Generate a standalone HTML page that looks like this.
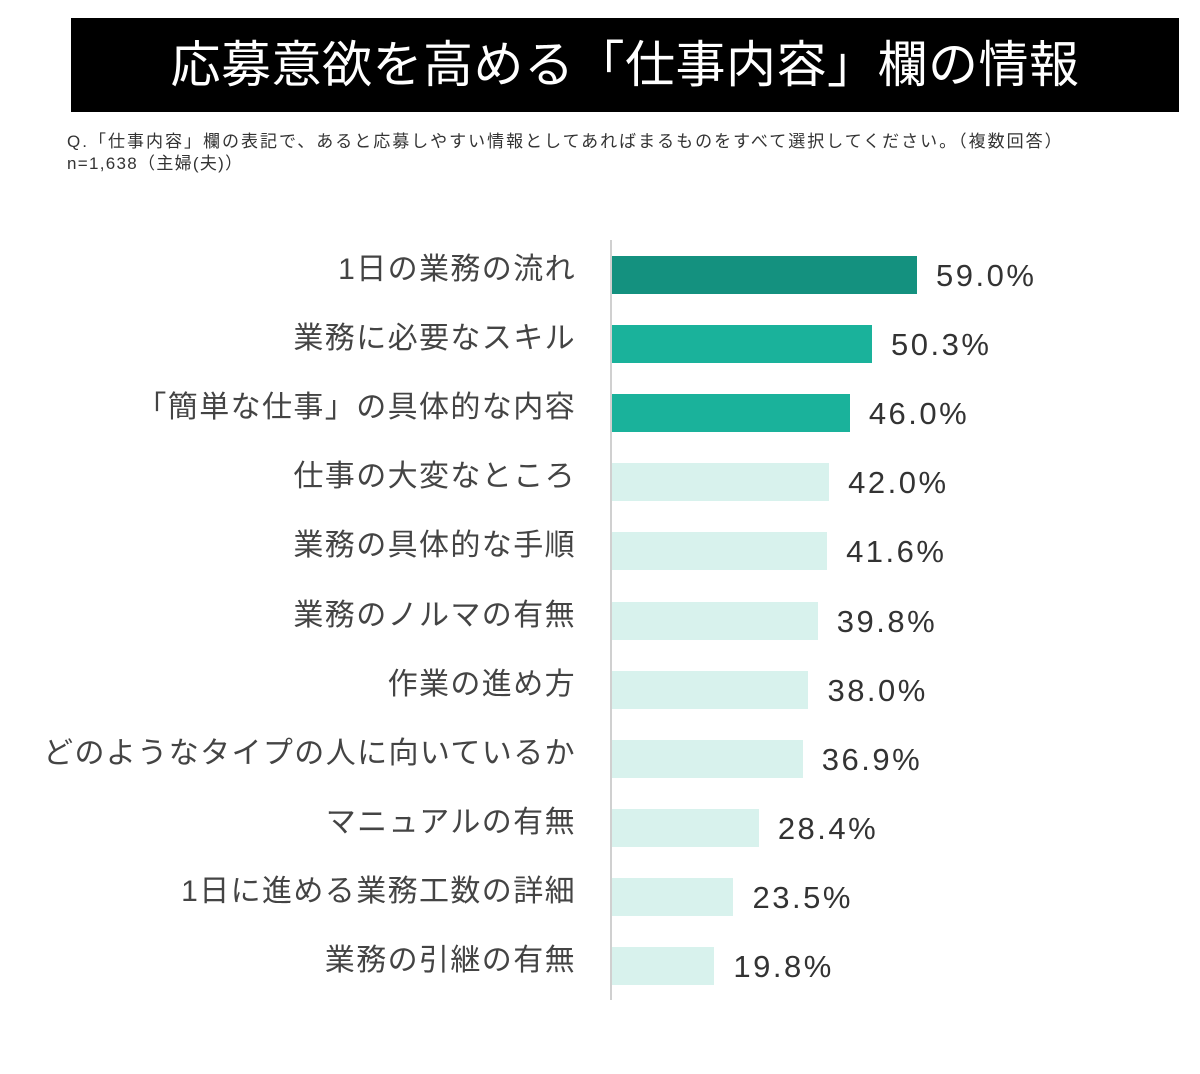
<!DOCTYPE html>
<html><head><meta charset="utf-8"><style>
body{margin:0;width:1200px;height:1074px;background:#fff;position:relative;overflow:hidden;font-family:"Liberation Sans","Noto Sans CJK JP",sans-serif;}
.t{position:absolute;left:71px;top:18px;width:1108px;height:94px;background:#000;color:#fff;font-size:50px;line-height:94px;text-align:center;letter-spacing:0.5px}
.q{position:absolute;left:67px;font-size:17px;letter-spacing:2px;color:#333;white-space:nowrap}
.ax{position:absolute;left:610px;top:240px;width:2px;height:760px;background:#d0d0d0}
.b{position:absolute;left:612px;height:38px}
.l{position:absolute;right:624px;font-size:30px;letter-spacing:1.4px;color:#444;white-space:nowrap;line-height:38px}
.v{position:absolute;font-size:31px;letter-spacing:2.5px;color:#333;line-height:38px;white-space:nowrap}
</style></head><body>
<div class="t">応募意欲を高める「仕事内容」欄の情報</div>
<div class="q" style="top:127px">Q.「仕事内容」欄の表記で、あると応募しやすい情報としてあればまるものをすべて選択してください。（複数回答）</div>
<div class="q" style="top:149px;letter-spacing:1.3px">n=1,638（主婦(夫)）</div>
<div class="ax"></div>
<div id="c"></div>
<script>
var d=[["1日の業務の流れ",59.0,"#14917f"],["業務に必要なスキル",50.3,"#1ab29b"],["「簡単な仕事」の具体的な内容",46.0,"#1ab29b"],["仕事の大変なところ",42.0],["業務の具体的な手順",41.6],["業務のノルマの有無",39.8],["作業の進め方",38.0],["どのようなタイプの人に向いているか",36.9],["マニュアルの有無",28.4],["1日に進める業務工数の詳細",23.5],["業務の引継の有無",19.8]];
var h="";
d.forEach(function(r,i){var y=256+i*69.1,w=r[1]*5.17;
h+='<div class="b" style="top:'+y+'px;width:'+w+'px;background:'+(r[2]||"#d8f2ed")+'"></div>';
h+='<div class="l" style="top:'+(y-5)+'px">'+r[0]+'</div>';
h+='<div class="v" style="top:'+(y+1)+'px;left:'+(612+w+19)+'px">'+r[1].toFixed(1)+'%</div>';});
document.getElementById("c").innerHTML=h;
</script>
</body></html>
